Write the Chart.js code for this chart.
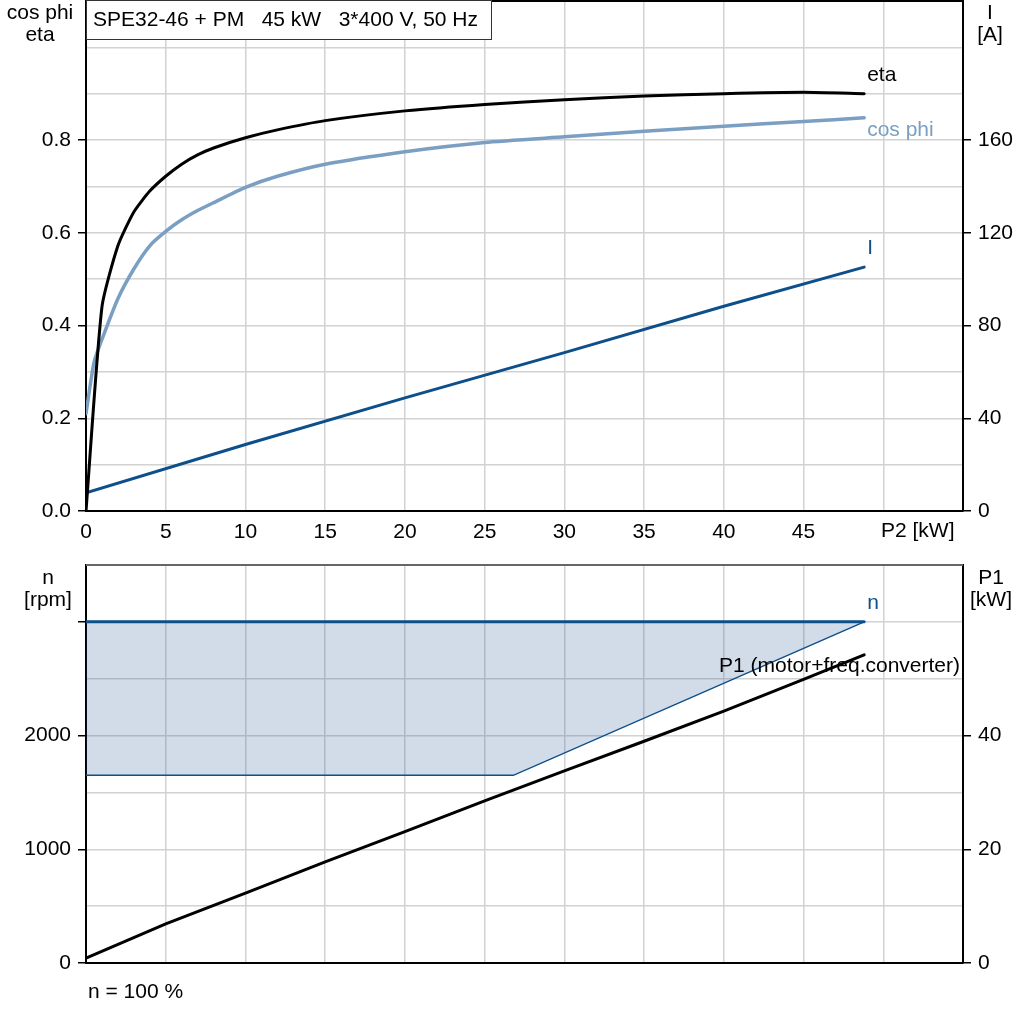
<!DOCTYPE html>
<html>
<head>
<meta charset="utf-8">
<title>SPE32-46 + PM</title>
<script src="https://cdn.jsdelivr.net/npm/chart.js@4/dist/chart.umd.min.js"></script>
<style>
  html, body { margin: 0; padding: 0; background: #fff; }
  #wrap { position: relative; width: 1024px; height: 1024px; }
  #top { position: absolute; left: 0; top: 0; }
  #bottom { position: absolute; left: 0; top: 545px; }
</style>
</head>
<body>
<div id="wrap">
  <canvas id="top" width="1024" height="545"></canvas>
  <canvas id="bottom" width="1024" height="479"></canvas>
</div>
<script>
/* data */
const p2Eff = [0, 1, 2, 3, 4, 5, 6, 7, 8, 10, 12, 15, 20, 25, 30, 35, 40, 45, 48.8];
const eta = [0, 0.44, 0.572, 0.645, 0.69, 0.722, 0.748, 0.768, 0.783, 0.805, 0.822, 0.842, 0.863, 0.877, 0.887, 0.895, 0.900, 0.903, 0.900];
const p2Cos = [0, 0.5, 1, 2, 3, 4, 5, 6, 7, 8, 10, 12, 15, 20, 25, 30, 35, 40, 45, 48.8];
const cosPhi = [0.21, 0.32, 0.37, 0.458, 0.522, 0.572, 0.603, 0.628, 0.648, 0.665, 0.698, 0.722, 0.748, 0.775, 0.795, 0.807, 0.819, 0.830, 0.840, 0.848];
const p2Cur = [0, 10, 20, 30, 40, 48.8];
const current = [7.8, 28.7, 48.8, 68.3, 88.3, 105.2];

const nX = [0, 26.8, 48.8];
const nMax = [3000, 3000, 3000];
const nMin = [1650, 1650, 3000];
const p1X = [0, 5, 10, 15, 20, 25, 30, 35, 40, 45, 48.8];
const p1 = [0.85, 6.9, 12.3, 17.8, 23.1, 28.5, 33.8, 39.0, 44.3, 49.9, 54.2];

const leftTicks = [0, 0.2, 0.4, 0.6, 0.8];
const rightTicks = [0, 40, 80, 120, 160];
const nTicks = [0, 1000, 2000];
const p1Ticks = [0, 20, 40];
const xTicks = [0, 5, 10, 15, 20, 25, 30, 35, 40, 45];

const FONT = "'Liberation Sans', Arial, sans-serif";
const FS = 21;
const GRID = '#d2d2d2';
const C_ETA = '#000000';
const C_COS = '#7a9fc2';
const C_BLUE = '#0d4f8b';

Chart.defaults.font.family = FONT;
Chart.defaults.font.size = FS;
Chart.defaults.color = '#000';

function pts(xs, ys) {
  return xs.map((x, i) => ({ x: x, y: ys[i] }));
}
function has(list, v) {
  return list.some(t => Math.abs(t - v) < 1e-6);
}

/* Rahmen, Beschriftungen, Titelkasten */
const decor = {
  id: 'decor',
  afterDraw(chart, args, opts) {
    const c = chart.ctx;
    const a = chart.chartArea;
    c.save();
    c.strokeStyle = opts.topColor;
    c.lineWidth = 2;
    c.beginPath();
    c.moveTo(a.left, a.top);
    c.lineTo(a.right, a.top);
    c.stroke();
    c.font = FS + 'px ' + FONT;
    c.textBaseline = 'middle';
    // labels at the end of the curves
    (opts.endLabels || []).forEach(l => {
      const ds = chart.data.datasets[l.ds];
      const last = ds.data[ds.data.length - 1];
      const px = chart.scales.x.getPixelForValue(last.x);
      const py = chart.scales[ds.yAxisID || 'y'].getPixelForValue(last.y);
      c.fillStyle = l.color;
      c.textAlign = l.align || 'left';
      c.fillText(l.text, l.align === 'right' ? a.right - 3 : px + 3, py + l.dy);
    });
    (opts.texts || []).forEach(t => {
      c.fillStyle = '#000';
      c.textAlign = t.align || 'center';
      c.fillText(t.text, t.x, t.y);
    });
    if (opts.box) {
      const b = opts.box;
      c.fillStyle = '#fff';
      c.fillRect(b.x, b.y, b.w, b.h);
      c.strokeStyle = '#333';
      c.lineWidth = 1;
      c.strokeRect(b.x + 0.5, b.y + 0.5, b.w, b.h);
      c.fillStyle = '#000';
      c.textAlign = 'left';
      c.fillText(b.text, b.x + 7, b.y + b.h / 2 + 1);
    }
    c.restore();
  }
};

function xAxis(showLabels, h) {
  return {
    type: 'linear',
    min: 0, max: 55,
    afterBuildTicks: s => { s.ticks = [0,5,10,15,20,25,30,35,40,45,50,55].map(v => ({ value: v })); },
    afterFit: s => { s.height = h; s.paddingLeft = 0; s.paddingRight = 0; },
    grid: { color: ctx => ctx.tick && (ctx.tick.value === 0 || ctx.tick.value === 55) ? 'rgba(0,0,0,0)' : GRID, lineWidth: 1.5, drawTicks: false },
    border: { color: '#000', width: 2 },
    ticks: {
      display: showLabels,
      padding: 9,
      maxRotation: 0,
      autoSkip: false,
      callback: v => has(xTicks, v) ? String(v) : ''
    }
  };
}

function yAxis(pos, max, step, labels, marks, w, gridOn, fmt) {
  return {
    type: 'linear',
    position: pos,
    min: 0, max: max,
    afterFit: s => { s.width = w; s.paddingTop = 0; s.paddingBottom = 0; },
    grid: {
      drawOnChartArea: gridOn,
      color: ctx => ctx.tick && (ctx.tick.value === 0 || Math.abs(ctx.tick.value - max) < 1e-6) ? 'rgba(0,0,0,0)' : GRID,
      lineWidth: 1.5,
      tickLength: 8,
      tickWidth: 1.5,
      tickColor: ctx => ctx.tick && has(marks, ctx.tick.value) ? '#000' : 'rgba(0,0,0,0)'
    },
    border: { color: '#000', width: 2 },
    ticks: {
      stepSize: step,
      padding: 7,
      autoSkip: false,
      callback: v => has(labels, v) ? fmt(v) : ''
    }
  };
}

// P2 chart
new Chart(document.getElementById('top'), {
  type: 'line',
  data: {
    datasets: [
      { label: 'eta', data: pts(p2Eff, eta), borderColor: C_ETA, borderWidth: 3, yAxisID: 'y', tension: 0.2 },
      { label: 'cos phi', data: pts(p2Cos, cosPhi), borderColor: C_COS, borderWidth: 3.5, yAxisID: 'y', tension: 0.2 },
      { label: 'I', data: pts(p2Cur, current), borderColor: C_BLUE, borderWidth: 3, yAxisID: 'y1' }
    ]
  },
  options: {
    responsive: false,
    animation: false,
    parsing: false,
    layout: { padding: { top: 1, left: 0, right: 0, bottom: 0 } },
    elements: { point: { radius: 0 }, line: { fill: false, borderCapStyle: 'round', borderJoinStyle: 'round' } },
    plugins: {
      legend: { display: false },
      tooltip: { enabled: false },
      decor: {
        topColor: '#000',
        endLabels: [
          { ds: 0, text: 'eta', color: C_ETA, dy: -19 },
          { ds: 1, text: 'cos phi', color: C_COS, dy: 12 },
          { ds: 2, text: 'I', color: C_BLUE, dy: -19 }
        ],
        texts: [
          { text: 'cos phi', x: 40, y: 13 },
          { text: 'eta', x: 40, y: 35 },
          { text: 'I', x: 990, y: 13 },
          { text: '[A]', x: 990, y: 35 },
          { text: 'P2 [kW]', x: 881, y: 531, align: 'left' }
        ],
        box: { x: 86, y: 0, w: 405, h: 39, text: 'SPE32-46 + PM   45 kW   3*400 V, 50 Hz' }
      }
    },
    scales: {
      x: xAxis(true, 34),
      y: yAxis('left', 1.1, 0.1, leftTicks, leftTicks, 86, true, v => v.toFixed(1)),
      y1: yAxis('right', 220, 20, rightTicks, rightTicks, 61, false, v => String(v))
    }
  },
  plugins: [decor]
});

// speed / P1 chart
new Chart(document.getElementById('bottom'), {
  type: 'line',
  data: {
    datasets: [
      { label: 'n', data: pts(nX, nMax), borderColor: C_BLUE, borderWidth: 3, yAxisID: 'y', fill: '+1', backgroundColor: 'rgba(25,80,140,0.2)' },
      { label: 'n min', data: pts(nX, nMin), borderColor: C_BLUE, borderWidth: 1.5, yAxisID: 'y' },
      { label: 'P1', data: pts(p1X, p1), borderColor: '#000', borderWidth: 3, yAxisID: 'y1' }
    ]
  },
  options: {
    responsive: false,
    animation: false,
    parsing: false,
    layout: { padding: { top: 20, left: 0, right: 0, bottom: 0 } },
    elements: { point: { radius: 0 }, line: { borderCapStyle: 'round' } },
    plugins: {
      legend: { display: false },
      tooltip: { enabled: false },
      filler: { propagate: false },
      decor: {
        topColor: '#666',
        endLabels: [
          { ds: 0, text: 'n', color: C_BLUE, dy: -19 },
          { ds: 2, text: 'P1 (motor+freq.converter)', color: '#000', dy: 11, align: 'right' }
        ],
        texts: [
          { text: 'n', x: 48, y: 33 },
          { text: '[rpm]', x: 48, y: 55 },
          { text: 'P1', x: 991, y: 33 },
          { text: '[kW]', x: 991, y: 55 },
          { text: 'n = 100 %', x: 88, y: 447, align: 'left' }
        ]
      }
    },
    scales: {
      x: xAxis(false, 61),
      y: yAxis('left', 3500, 500, nTicks, nTicks.concat([3000]), 86, true, v => String(v)),
      y1: yAxis('right', 70, 10, p1Ticks, p1Ticks, 61, false, v => String(v))
    }
  },
  plugins: [decor]
});
</script>
</body>
</html>
